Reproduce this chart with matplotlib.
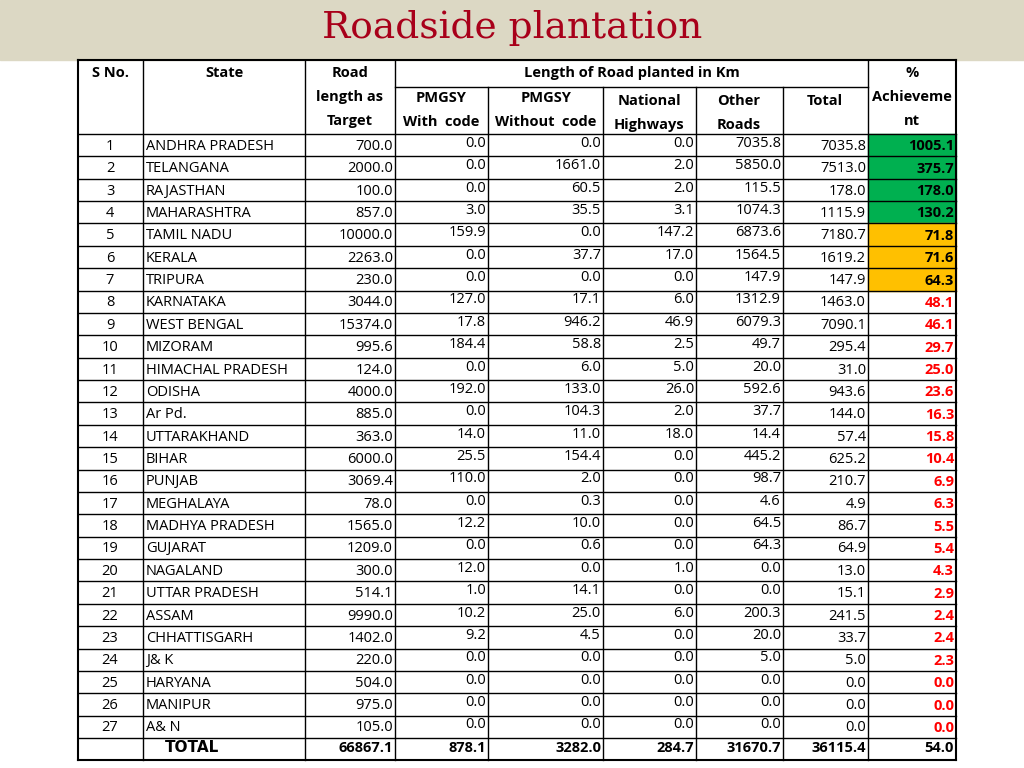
import matplotlib
matplotlib.use("Agg")
import matplotlib.pyplot as plt
from matplotlib.patches import Rectangle

states = ["ANDHRA PRADESH", "TELANGANA", "RAJASTHAN", "MAHARASHTRA", "TAMIL NADU",
          "KERALA", "TRIPURA", "KARNATAKA", "WEST BENGAL", "MIZORAM",
          "HIMACHAL PRADESH", "ODISHA", "Ar Pd.", "UTTARAKHAND", "BIHAR", "PUNJAB",
          "MEGHALAYA", "MADHYA PRADESH", "GUJARAT", "NAGALAND", "UTTAR PRADESH",
          "ASSAM", "CHHATTISGARH", "J& K", "HARYANA", "MANIPUR", "A& N"]
target = [700.0, 2000.0, 100.0, 857.0, 10000.0, 2263.0, 230.0, 3044.0, 15374.0, 995.6,
          124.0, 4000.0, 885.0, 363.0, 6000.0, 3069.4, 78.0, 1565.0, 1209.0, 300.0,
          514.1, 9990.0, 1402.0, 220.0, 504.0, 975.0, 105.0]
pmgsy_code = [0.0, 0.0, 0.0, 3.0, 159.9, 0.0, 0.0, 127.0, 17.8, 184.4, 0.0, 192.0, 0.0,
              14.0, 25.5, 110.0, 0.0, 12.2, 0.0, 12.0, 1.0, 10.2, 9.2, 0.0, 0.0, 0.0, 0.0]
pmgsy_nocode = [0.0, 1661.0, 60.5, 35.5, 0.0, 37.7, 0.0, 17.1, 946.2, 58.8, 6.0, 133.0,
                104.3, 11.0, 154.4, 2.0, 0.3, 10.0, 0.6, 0.0, 14.1, 25.0, 4.5, 0.0, 0.0, 0.0, 0.0]
national = [0.0, 2.0, 2.0, 3.1, 147.2, 17.0, 0.0, 6.0, 46.9, 2.5, 5.0, 26.0, 2.0, 18.0,
            0.0, 0.0, 0.0, 0.0, 0.0, 1.0, 0.0, 6.0, 0.0, 0.0, 0.0, 0.0, 0.0]
other = [7035.8, 5850.0, 115.5, 1074.3, 6873.6, 1564.5, 147.9, 1312.9, 6079.3, 49.7,
         20.0, 592.6, 37.7, 14.4, 445.2, 98.7, 4.6, 64.5, 64.3, 0.0, 0.0, 200.3, 20.0,
         5.0, 0.0, 0.0, 0.0]
total = [7035.8, 7513.0, 178.0, 1115.9, 7180.7, 1619.2, 147.9, 1463.0, 7090.1, 295.4,
         31.0, 943.6, 144.0, 57.4, 625.2, 210.7, 4.9, 86.7, 64.9, 13.0, 15.1, 241.5,
         33.7, 5.0, 0.0, 0.0, 0.0]
achieve = [1005.1, 375.7, 178.0, 130.2, 71.8, 71.6, 64.3, 48.1, 46.1, 29.7, 25.0, 23.6,
           16.3, 15.8, 10.4, 6.9, 6.3, 5.5, 5.4, 4.3, 2.9, 2.4, 2.4, 2.3, 0.0, 0.0, 0.0]
totals_row = ["66867.1", "878.1", "3282.0", "284.7", "31670.7", "36115.4", "54.0"]

FONT = "Open Sans"
fig = plt.figure(figsize=(10.24, 7.68), dpi=100)
ax = fig.add_axes([0, 0, 1, 1])
ax.set_xlim(0, 1024)
ax.set_ylim(768, 0)
ax.axis("off")

ax.add_patch(Rectangle((0, 0), 1024, 60, color="#dcd8c4", zorder=0))
ax.text(512, 28, "Roadside plantation", ha="center", va="center", fontsize=27,
        family="DejaVu Serif", color="#a8001a")

xs = [78, 143, 305, 395, 488, 603, 696, 783, 868, 956]
top, hmid, hbot = 60, 87, 134
rh = (738 - hbot) / 27
bottom = 760
lw = 1.0

def hl(y, x0, x1, w=lw):
    ax.plot([x0, x1], [y, y], color="black", lw=w, zorder=3)

def vl(x, y0, y1, w=lw):
    ax.plot([x, x], [y0, y1], color="black", lw=w, zorder=3)

# colored cells
for i, a in enumerate(achieve):
    y = hbot + i * rh
    if a >= 100:
        ax.add_patch(Rectangle((xs[8], y), xs[9] - xs[8], rh, color="#00b050", zorder=1))
    elif a >= 60:
        ax.add_patch(Rectangle((xs[8], y), xs[9] - xs[8], rh, color="#ffc000", zorder=1))

# grid
hl(top, xs[0], xs[9], 1.5)
hl(hmid, xs[3], xs[8])
for i in range(28):
    hl(hbot + i * rh, xs[0], xs[9])
hl(bottom, xs[0], xs[9], 1.5)
for j, x in enumerate(xs):
    if j in (4, 5, 6, 7):
        vl(x, hmid, bottom)
    else:
        vl(x, top, bottom, 1.5 if j in (0, 9) else lw)

hs = dict(ha="center", va="center", fontsize=10.5, weight="bold", family=FONT)
ax.text(110, 73, "S No.", **hs)
ax.text(225, 73, "State", **hs)
ax.text(350, 73, "Road", **hs)
ax.text(350, 97, "length as", **hs)
ax.text(350, 121, "Target", **hs)
ax.text(632, 73, "Length of Road planted in Km", **hs)
ax.text(912, 73, "%", **hs)
ax.text(912, 97, "Achieveme", **hs)
ax.text(912, 121, "nt", **hs)
ax.text(441, 98, "PMGSY", **hs)
ax.text(441, 122, "With  code", **hs)
ax.text(546, 98, "PMGSY", **hs)
ax.text(546, 122, "Without  code", **hs)
ax.text(649, 101, "National", **hs)
ax.text(649, 125, "Highways", **hs)
ax.text(739, 101, "Other", **hs)
ax.text(739, 125, "Roads", **hs)
ax.text(825, 101, "Total", **hs)

ds = dict(va="center", fontsize=10.5, family=FONT)
for i in range(27):
    yc = hbot + (i + 0.55) * rh
    ax.text(110, yc, str(i + 1), ha="center", **ds)
    ax.text(146, yc, states[i], ha="left", **ds)
    ax.text(xs[3] - 2, yc, f"{target[i]:.1f}", ha="right", **ds)
    up = yc - 3
    for j, col in enumerate([pmgsy_code, pmgsy_nocode, national, other]):
        ax.text(xs[4 + j] - 2, up, f"{col[i]:.1f}", ha="right", **ds)
    ax.text(xs[8] - 2, yc, f"{total[i]:.1f}", ha="right", **ds)
    a = achieve[i]
    ax.text(xs[9] - 2, yc, f"{a:.1f}", ha="right", weight="bold",
            color="black" if a >= 60 else "#ff0000", **ds)

yc = 748
ax.text(192, yc, "TOTAL", ha="center", va="center", fontsize=11, weight="bold",
        family="DejaVu Sans")
for j, v in enumerate(totals_row):
    ax.text(xs[3 + j] - 2, yc, v, ha="right", weight="bold", **ds)

fig.savefig("out.png", dpi=100)
